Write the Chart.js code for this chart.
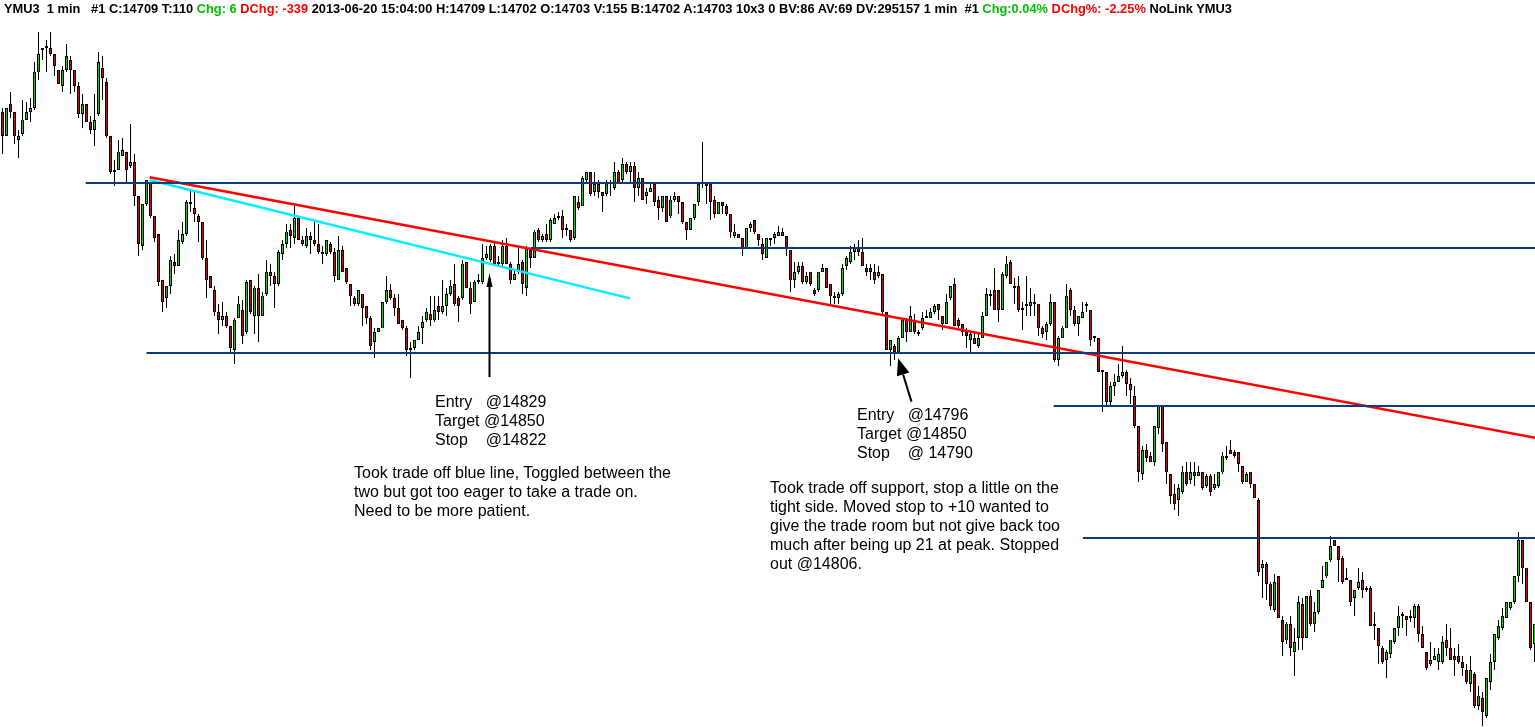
<!DOCTYPE html>
<html>
<head>
<meta charset="utf-8">
<title>YMU3 1 min</title>
<script src="https://cdn.jsdelivr.net/npm/chart.js@4.4.0/dist/chart.umd.min.js"></script>
<style>
  html, body { margin: 0; padding: 0; background: #fff; overflow: hidden; }
  #wrap { position: relative; width: 1535px; height: 727px; }
  #chart { position: absolute; left: 0; top: 0; }
  #header { position: absolute; left: 4px; top: 1px; font: bold 12.85px "Liberation Sans", Arial, sans-serif; line-height: 16px; white-space: pre; color: #000; }
  #header .up { color: #00c000; }
  #header .down { color: #ff0000; }
  .note { position: absolute; font: 16px "Liberation Sans", Arial, sans-serif; line-height: 19px; white-space: pre; color: #000; }
</style>
</head>
<body>
<div id="wrap">
  <canvas id="chart" width="1535" height="727"></canvas>
  <div id="header">YMU3  1 min   #1 C:14709 T:110 <span class="up">Chg: 6</span> <span class="down">DChg: -339</span> 2013-06-20 15:04:00 H:14709 L:14702 O:14703 V:155 B:14702 A:14703 10x3 0 BV:86 AV:69 DV:295157 1 min  #1 <span class="up">Chg:0.04%</span> <span class="down">DChg%: -2.25%</span> NoLink YMU3</div>
  <div class="note" style="left:435px;top:392px">Entry   @14829
Target @14850
Stop    @14822</div>
  <div class="note" style="left:354px;top:463px">Took trade off blue line, Toggled between the
two but got too eager to take a trade on.
Need to be more patient.</div>
  <div class="note" style="left:857px;top:405px">Entry   @14796
Target @14850
Stop    @ 14790</div>
  <div class="note" style="left:770px;top:478px">Took trade off support, stop a little on the
tight side. Moved stop to +10 wanted to
give the trade room but not give back too
much after being up 21 at peak. Stopped
out @14806.</div>
</div>
<script>
// one minute candles (oldest first)
const opens = [
  14916,14904,14920,14916,14902,14905,14912,14916,14918,14936,
  14947,14948,14948,14945,14937,14929,14937,14942,14937,14929,
  14915,14920,14911,14907,14915,14938,14931,14904,14887,14887,
  14894,14896,14889,14891,14874,14849,14870,14881,14864,14855,
  14832,14823,14829,14841,14839,14851,14855,14871,14868,14864,
  14861,14843,14834,14827,14816,14812,14814,14809,14797,14813,
  14817,14806,14832,14814,14828,14814,14825,14836,14834,14830,
  14845,14850,14857,14853,14863,14852,14849,14854,14852,14850,
  14845,14845,14850,14846,14832,14847,14838,14830,14823,14820,
  14825,14819,14813,14801,14806,14808,14821,14827,14823,14818,
  14812,14808,14797,14798,14802,14808,14812,14815,14812,14819,
  14816,14819,14825,14830,14823,14823,14841,14828,14821,14831,
  14831,14843,14842,14849,14840,14840,14849,14840,14832,14836,
  14841,14828,14847,14843,14857,14852,14855,14852,14860,14863,
  14864,14857,14857,14853,14871,14869,14882,14886,14876,14880,
  14876,14875,14880,14878,14886,14882,14890,14886,14889,14878,
  14883,14874,14876,14880,14872,14868,14874,14864,14872,14874,
  14871,14861,14857,14863,14871,14880,14880,14880,14872,14865,
  14871,14869,14865,14854,14855,14853,14848,14858,14862,14855,
  14850,14843,14852,14853,14854,14856,14854,14847,14832,14836,
  14839,14831,14836,14827,14827,14836,14838,14830,14824,14823,
  14825,14839,14841,14846,14848,14846,14838,14838,14836,14834,
  14835,14816,14797,14799,14796,14803,14812,14806,14812,14805,
  14808,14813,14813,14816,14820,14814,14810,14823,14830,14812,
  14810,14806,14802,14803,14799,14803,14814,14824,14827,14827,
  14817,14834,14841,14829,14829,14817,14819,14819,14820,14820,
  14808,14806,14810,14821,14792,14803,14808,14827,14817,14810,
  14813,14820,14817,14803,14803,14786,14786,14771,14779,14781,
  14784,14786,14780,14774,14759,14735,14747,14744,14741,14758,
  14769,14751,14735,14725,14722,14726,14736,14732,14736,14734,
  14736,14729,14734,14728,14729,14736,14743,14747,14746,14746,
  14739,14731,14736,14730,14722,14688,14690,14680,14667,14684,
  14662,14652,14660,14646,14653,14670,14653,14674,14660,14666,
  14678,14684,14692,14702,14699,14693,14682,14682,14673,14678,
  14682,14678,14678,14660,14658,14648,14642,14645,14651,14658,
  14664,14664,14663,14663,14669,14655,14646,14640,14642,14641,
  14641,14652,14648,14644,14644,14641,14637,14630,14635,14619,
  14623,14614,14631,14641,14653,14658,14663,14668,14671,14684,
  14702,14688,14671,14650
];
const highs = [
  14918,14918,14926,14916,14907,14922,14921,14923,14941,14956,
  14948,14952,14956,14945,14937,14939,14950,14944,14937,14931,
  14925,14920,14914,14925,14946,14944,14933,14904,14892,14902,
  14903,14896,14910,14895,14874,14870,14882,14881,14864,14855,
  14832,14829,14844,14845,14857,14861,14872,14877,14876,14865,
  14861,14852,14834,14829,14820,14821,14816,14809,14813,14824,
  14822,14832,14832,14829,14835,14826,14842,14840,14836,14847,
  14852,14860,14860,14869,14864,14854,14858,14856,14861,14860,
  14849,14852,14851,14848,14854,14849,14838,14830,14824,14827,
  14825,14819,14814,14808,14808,14821,14834,14830,14825,14825,
  14812,14809,14801,14802,14809,14814,14818,14824,14824,14824,
  14832,14828,14832,14840,14824,14842,14841,14831,14832,14835,
  14850,14849,14850,14851,14844,14852,14853,14841,14837,14848,
  14842,14849,14848,14857,14858,14855,14860,14863,14865,14866,
  14867,14860,14857,14874,14874,14884,14886,14886,14886,14882,
  14876,14882,14882,14891,14887,14893,14891,14891,14891,14886,
  14883,14878,14880,14880,14874,14874,14874,14874,14876,14874,
  14871,14861,14863,14870,14880,14901,14881,14880,14874,14871,
  14871,14870,14865,14860,14855,14853,14858,14861,14862,14855,
  14853,14853,14853,14856,14859,14858,14854,14847,14841,14841,
  14841,14836,14836,14828,14836,14840,14838,14830,14826,14826,
  14840,14844,14849,14850,14852,14853,14840,14840,14840,14839,
  14835,14816,14802,14800,14804,14812,14813,14819,14815,14807,
  14816,14817,14818,14820,14820,14814,14825,14829,14833,14813,
  14810,14808,14806,14806,14806,14816,14828,14827,14838,14827,
  14836,14844,14842,14833,14834,14821,14834,14828,14825,14820,
  14809,14811,14825,14821,14804,14809,14830,14828,14819,14814,
  14821,14821,14817,14804,14803,14787,14786,14781,14785,14790,
  14799,14787,14783,14779,14759,14749,14750,14746,14759,14769,
  14769,14751,14735,14730,14730,14739,14741,14741,14741,14739,
  14736,14735,14735,14735,14736,14746,14749,14752,14747,14746,
  14739,14736,14736,14730,14723,14692,14691,14681,14685,14684,
  14664,14661,14664,14658,14674,14673,14674,14677,14671,14677,
  14689,14691,14704,14702,14699,14694,14688,14682,14677,14688,
  14686,14679,14679,14666,14658,14649,14647,14652,14658,14669,
  14666,14664,14667,14670,14670,14659,14646,14651,14648,14648,
  14654,14660,14658,14648,14650,14644,14640,14644,14636,14629,
  14626,14633,14645,14655,14662,14668,14671,14671,14684,14706,
  14702,14688,14671,14660
];
const lows = [
  14895,14904,14913,14900,14893,14904,14912,14911,14917,14932,
  14942,14936,14944,14934,14930,14926,14936,14925,14926,14913,
  14908,14911,14905,14899,14914,14922,14903,14885,14879,14887,
  14894,14880,14888,14869,14844,14847,14869,14863,14851,14829,
  14816,14818,14825,14835,14839,14850,14854,14866,14861,14851,
  14842,14823,14828,14814,14805,14809,14808,14796,14790,14813,
  14800,14805,14815,14805,14801,14814,14824,14829,14818,14829,
  14842,14848,14848,14850,14852,14849,14848,14845,14849,14845,
  14840,14844,14845,14831,14832,14836,14830,14819,14819,14819,
  14809,14810,14797,14793,14806,14808,14820,14822,14814,14810,
  14807,14794,14783,14797,14802,14800,14811,14809,14811,14812,
  14815,14814,14824,14819,14811,14822,14828,14815,14821,14830,
  14830,14842,14841,14839,14839,14839,14840,14830,14832,14835,
  14825,14824,14838,14843,14851,14851,14851,14851,14860,14862,
  14853,14854,14851,14852,14867,14869,14881,14874,14874,14873,
  14866,14874,14874,14877,14880,14881,14885,14881,14871,14874,
  14872,14870,14876,14869,14862,14866,14861,14863,14871,14865,
  14860,14852,14857,14862,14869,14878,14870,14862,14863,14865,
  14865,14864,14853,14853,14853,14844,14848,14856,14855,14849,
  14842,14843,14849,14850,14854,14854,14844,14826,14828,14835,
  14830,14830,14829,14824,14826,14836,14828,14820,14820,14820,
  14824,14837,14840,14842,14844,14839,14834,14832,14830,14833,
  14815,14797,14789,14792,14796,14803,14801,14806,14805,14804,
  14807,14813,14813,14815,14812,14807,14810,14822,14809,14808,
  14804,14798,14796,14800,14798,14803,14814,14819,14817,14811,
  14817,14833,14830,14820,14816,14807,14814,14814,14814,14804,
  14803,14802,14809,14791,14789,14803,14808,14814,14809,14804,
  14813,14816,14799,14801,14786,14766,14769,14769,14774,14781,
  14783,14774,14770,14758,14731,14732,14741,14741,14739,14755,
  14746,14730,14720,14717,14714,14725,14729,14730,14729,14734,
  14727,14728,14724,14727,14728,14735,14742,14745,14743,14736,
  14730,14731,14728,14723,14684,14673,14672,14667,14666,14663,
  14644,14650,14644,14634,14647,14647,14653,14659,14656,14665,
  14678,14683,14691,14699,14681,14680,14682,14669,14664,14677,
  14673,14676,14659,14652,14640,14640,14633,14643,14650,14654,
  14658,14654,14661,14658,14651,14648,14637,14639,14642,14637,
  14640,14644,14642,14634,14640,14634,14630,14626,14618,14617,
  14609,14613,14627,14637,14652,14657,14663,14667,14670,14681,
  14680,14671,14647,14641
];
const closes = [
  14904,14918,14916,14904,14904,14912,14916,14918,14936,14945,
  14948,14948,14945,14939,14930,14937,14944,14937,14929,14915,
  14920,14911,14907,14912,14941,14933,14904,14886,14886,14896,
  14897,14887,14891,14874,14850,14870,14882,14864,14853,14831,
  14821,14829,14842,14839,14852,14855,14871,14870,14865,14861,
  14843,14832,14828,14816,14812,14814,14809,14798,14812,14820,
  14804,14831,14816,14828,14814,14824,14836,14834,14830,14846,
  14850,14856,14854,14863,14852,14850,14854,14852,14850,14846,
  14846,14852,14846,14834,14847,14836,14831,14824,14820,14827,
  14818,14813,14799,14806,14808,14821,14827,14823,14818,14810,
  14808,14797,14797,14802,14806,14811,14816,14812,14817,14816,
  14819,14825,14829,14820,14819,14840,14828,14820,14831,14832,
  14843,14845,14849,14840,14840,14849,14840,14832,14835,14840,
  14830,14848,14843,14856,14852,14854,14852,14862,14863,14864,
  14857,14857,14852,14874,14868,14883,14886,14875,14880,14876,
  14874,14880,14880,14886,14880,14890,14886,14889,14878,14883,
  14872,14876,14878,14871,14868,14874,14861,14872,14874,14871,
  14861,14857,14863,14870,14880,14881,14879,14871,14865,14871,
  14869,14865,14856,14856,14853,14848,14858,14860,14856,14852,
  14845,14853,14853,14855,14856,14854,14848,14832,14836,14839,
  14831,14834,14830,14825,14836,14838,14828,14824,14823,14825,
  14838,14843,14846,14848,14846,14839,14836,14836,14832,14836,
  14816,14797,14802,14796,14803,14812,14806,14814,14806,14806,
  14813,14814,14816,14819,14817,14810,14821,14829,14809,14809,
  14806,14804,14805,14800,14803,14814,14825,14825,14817,14817,
  14835,14840,14830,14828,14817,14817,14820,14821,14821,14808,
  14805,14810,14821,14792,14803,14808,14824,14817,14810,14814,
  14816,14819,14802,14803,14786,14787,14771,14779,14781,14784,
  14786,14780,14777,14759,14736,14747,14743,14741,14759,14769,
  14750,14736,14724,14720,14728,14736,14730,14736,14734,14736,
  14728,14734,14726,14730,14736,14744,14744,14745,14744,14740,
  14731,14735,14730,14723,14686,14690,14680,14669,14681,14663,
  14651,14660,14648,14651,14671,14653,14674,14660,14666,14677,
  14682,14691,14699,14699,14692,14681,14682,14671,14677,14681,
  14677,14677,14659,14659,14649,14641,14646,14652,14658,14664,
  14664,14662,14664,14669,14655,14648,14638,14642,14644,14645,
  14651,14648,14642,14642,14641,14638,14631,14637,14619,14624,
  14616,14633,14641,14655,14659,14664,14671,14671,14684,14702,
  14688,14671,14648,14660
];

// horizontal support / resistance levels and the candle index where each starts
const levelPrices = [14880.5, 14848, 14795.5, 14769, 14703];
const levelStarts = [20.8, 132.1, 36.0, 262.8, 270.1];
const levelEnd = 384;

// trend lines as [candle index, price] pairs
const redTrend = [[36.8, 14883.4], [384, 14752.8]];
const cyanTrend = [[36.8, 14882], [156.9, 14822.8]];

// arrows pointing at the two entries: tail and tip as [candle index, price]
const arrowTails = [[121.75, 14783.5], [227.25, 14771.2]];
const arrowTips = [[121.75, 14835.5], [223.9, 14792.9]];

const green = '#00dd00';
const red = '#e00000';

function toPoints(pairs) {
  return pairs.map(p => ({ x: p[0], y: p[1] }));
}

const wickData = highs.map((h, i) => ({ x: i, y: [lows[i], h] }));
const bodyData = opens.map((o, i) => ({ x: i, y: [o, closes[i]] }));
const bodyColors = opens.map((o, i) => closes[i] >= o ? green : red);

const levelSets = levelPrices.map((p, k) => ({
  type: 'line',
  data: [{ x: levelStarts[k], y: p }, { x: levelEnd, y: p }],
  borderColor: '#0a3c78',
  borderWidth: 2,
  pointRadius: 0,
  order: 0
}));

const headSizes = [[14, 3], [17, 6.5]];

const arrowPlugin = {
  id: 'arrows',
  afterDatasetsDraw(chart) {
    const ctx = chart.ctx;
    const xs = chart.scales.x;
    const ys = chart.scales.y;
    ctx.save();
    ctx.strokeStyle = '#000';
    ctx.fillStyle = '#000';
    arrowTails.forEach((t, k) => {
      const x1 = xs.getPixelForValue(t[0]);
      const y1 = ys.getPixelForValue(t[1]);
      const x2 = xs.getPixelForValue(arrowTips[k][0]);
      const y2 = ys.getPixelForValue(arrowTips[k][1]);
      const ang = Math.atan2(y2 - y1, x2 - x1);
      const len = headSizes[k][0];
      const half = headSizes[k][1];
      const bx = x2 - Math.cos(ang) * len;
      const by = y2 - Math.sin(ang) * len;
      ctx.lineWidth = 2;
      ctx.beginPath();
      ctx.moveTo(x1, y1);
      ctx.lineTo(bx, by);
      ctx.stroke();
      ctx.beginPath();
      ctx.moveTo(x2, y2);
      ctx.lineTo(bx - Math.sin(ang) * half, by + Math.cos(ang) * half);
      ctx.lineTo(bx + Math.sin(ang) * half, by - Math.cos(ang) * half);
      ctx.closePath();
      ctx.fill();
    });
    ctx.restore();
  }
};

new Chart(document.getElementById('chart'), {
  type: 'bar',
  data: {
    datasets: [
      ...levelSets,
      {
        type: 'line',
        data: toPoints(redTrend),
        borderColor: '#ff0000',
        borderWidth: 2.5,
        pointRadius: 0,
        order: 0
      },
      {
        type: 'line',
        data: toPoints(cyanTrend),
        borderColor: '#00eeff',
        borderWidth: 2.5,
        pointRadius: 0,
        order: 0
      },
      {
        data: bodyData,
        backgroundColor: bodyColors,
        borderColor: '#000',
        borderWidth: 1,
        borderSkipped: false,
        barThickness: 3,
        minBarLength: 2,
        inflateAmount: 0,
        grouped: false,
        order: 1
      },
      {
        data: wickData,
        backgroundColor: '#000',
        borderWidth: 0,
        barThickness: 1,
        inflateAmount: 0,
        grouped: false,
        order: 2
      }
    ]
  },
  options: {
    responsive: false,
    animation: false,
    devicePixelRatio: 1,
    layout: { padding: 0 },
    plugins: {
      legend: { display: false },
      tooltip: { enabled: false }
    },
    scales: {
      x: { type: 'linear', offset: false, min: -0.625, max: 383.125, display: false },
      y: { type: 'linear', min: 14608.5, max: 14972, display: false }
    }
  },
  plugins: [arrowPlugin]
});
</script>
</body>
</html>
